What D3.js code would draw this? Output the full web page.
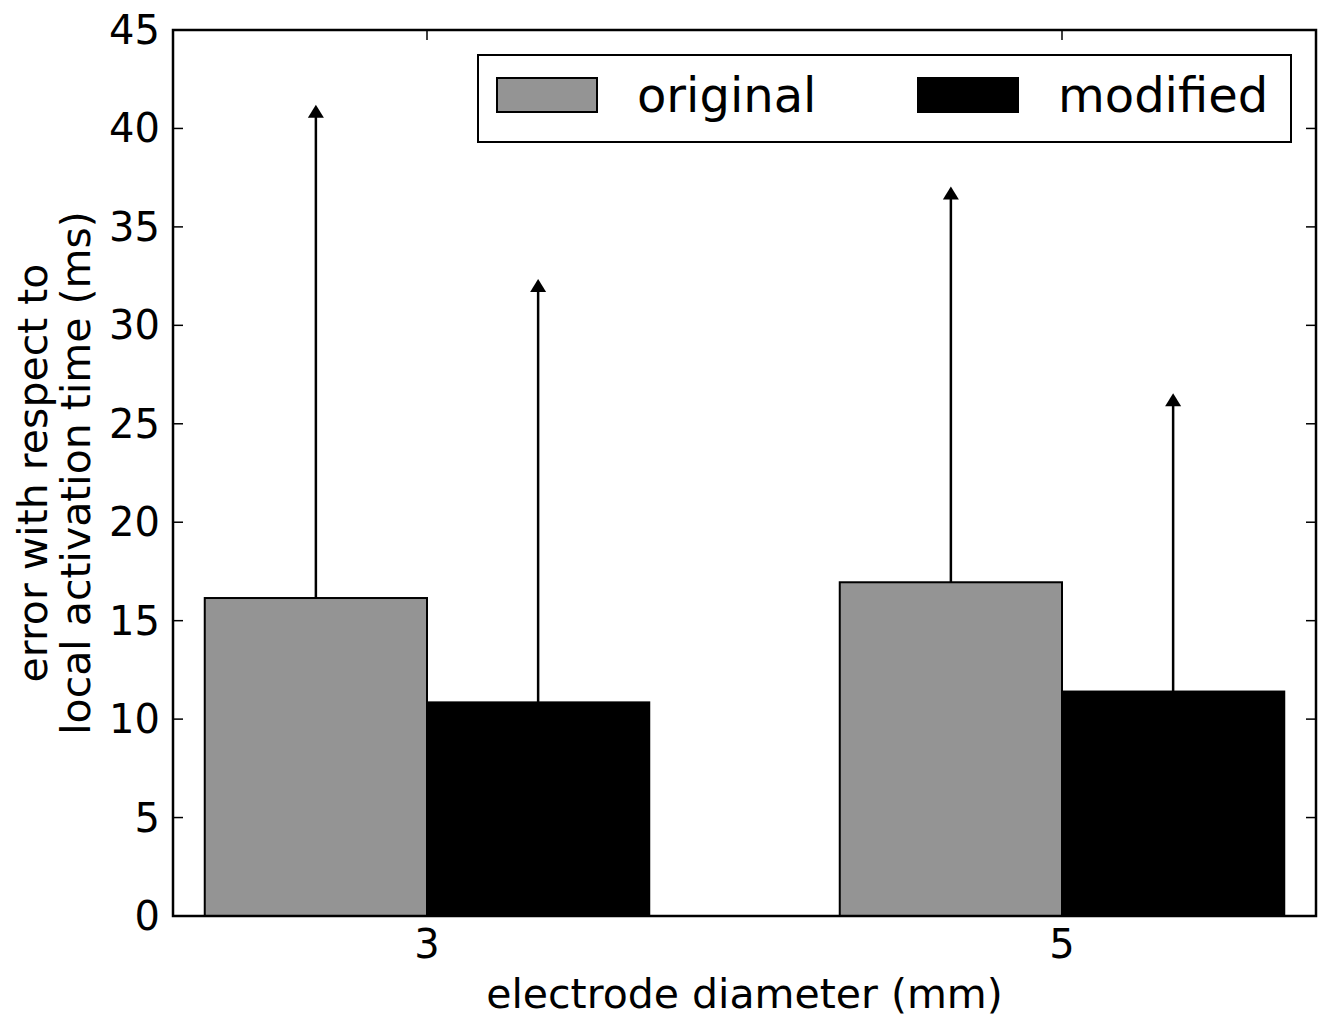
<!DOCTYPE html>
<html>
<head>
<meta charset="utf-8">
<script src="https://cdn.jsdelivr.net/npm/d3@7"></script>
<style>
  body { margin: 0; background: #fff; }
  text { font-family: "DejaVu Sans", sans-serif; fill: #000; }
</style>
</head>
<body>
<div id="chart"></div>
<script>
// data
var categories = ["3", "5"];
var original = [16.15, 16.95];
var modified = [10.85, 11.4];
var originalErr = [24.7, 19.75];   // upper error only
var modifiedErr = [21.15, 14.8];
var yTicks = [0, 5, 10, 15, 20, 25, 30, 35, 40, 45];
var seriesNames = ["original", "modified"];

(function () {
  var W = 1326, H = 1019,
    plotL = 173, plotR = 1316, plotT = 30, plotB = 916,
    barW = 0.35;

  var svg = d3.select('#chart').append('svg')
    .attr('width', W).attr('height', H);

  var x = d3.scaleLinear().domain([-0.4, 1.4]).range([plotL, plotR]);
  var y = d3.scaleLinear().domain([0, 45]).range([plotB, plotT]);

  var series = [
    { name: seriesNames[0], vals: original, err: originalErr, fill: '#949494', off: -barW },
    { name: seriesNames[1], vals: modified, err: modifiedErr, fill: '#000', off: 0 }
  ];

  // bars
  series.forEach(function (s) {
    svg.selectAll('.bar-' + s.name)
      .data(s.vals).enter()
      .append('rect')
      .attr('class', 'bar-' + s.name)
      .attr('x', function (d, i) { return x(i + s.off) })
      .attr('y', function (d) { return y(d) })
      .attr('width', function () { return x(barW) - x(0) })
      .attr('height', function (d) { return y(0) - y(d) })
      .attr('fill', s.fill)
      .attr('stroke', '#000')
      .attr('stroke-width', 2);
  });

  // error bars with arrow caps
  series.forEach(function (s) {
    s.vals.forEach(function (d, i) {
      var cx = x(i + s.off + barW / 2);
      var ty = y(d + s.err[i]);
      svg.append('line')
        .attr('x1', cx).attr('x2', cx)
        .attr('y1', y(d)).attr('y2', ty)
        .attr('stroke', '#000').attr('stroke-width', 2.5);
      svg.append('path')
        .attr('d', 'M' + cx + ',' + (ty - 7) + 'L' + (cx + 8) + ',' + (ty + 6) + 'L' + (cx - 8) + ',' + (ty + 6) + 'Z')
        .attr('fill', '#000');
    });
  });

  // frame
  svg.append('rect')
    .attr('x', plotL).attr('y', plotT)
    .attr('width', plotR - plotL).attr('height', plotB - plotT)
    .attr('fill', 'none').attr('stroke', '#000').attr('stroke-width', 2.5);

  // y ticks, inward on both sides
  yTicks.forEach(function (t) {
    svg.append('line').attr('x1', plotL).attr('x2', plotL + 10)
      .attr('y1', y(t)).attr('y2', y(t)).attr('stroke', '#000').attr('stroke-width', 1.5);
    svg.append('line').attr('x1', plotR).attr('x2', plotR - 10)
      .attr('y1', y(t)).attr('y2', y(t)).attr('stroke', '#000').attr('stroke-width', 1.5);
    svg.append('text')
      .attr('x', 160).attr('y', y(t))
      .attr('text-anchor', 'end')
      .attr('dominant-baseline', 'central')
      .style('font-size', '40px')
      .text(t);
  });

  // x ticks
  categories.forEach(function (c, i) {
    svg.append('line').attr('x1', x(i)).attr('x2', x(i))
      .attr('y1', plotT).attr('y2', plotT + 10).attr('stroke', '#000').attr('stroke-width', 1.5);
    svg.append('line').attr('x1', x(i)).attr('x2', x(i))
      .attr('y1', plotB).attr('y2', plotB - 10).attr('stroke', '#000').attr('stroke-width', 1.5);
    svg.append('text')
      .attr('x', x(i)).attr('y', 958)
      .attr('text-anchor', 'middle')
      .style('font-size', '40px')
      .text(c);
  });

  // axis labels
  svg.append('text')
    .attr('x', (plotL + plotR) / 2).attr('y', 1008)
    .attr('text-anchor', 'middle')
    .style('font-size', '41px')
    .text('electrode diameter (mm)');

  var ylab = svg.append('text')
    .attr('transform', 'translate(0,' + ((plotT + plotB) / 2) + ') rotate(-90)')
    .attr('text-anchor', 'middle')
    .style('font-size', '41px');
  ylab.append('tspan').attr('x', 0).attr('y', 47).text('error with respect to');
  ylab.append('tspan').attr('x', 0).attr('y', 90).text('local activation time (ms)');

  // legend
  var lg = svg.append('g');
  lg.append('rect')
    .attr('x', 478).attr('y', 55).attr('width', 813).attr('height', 87)
    .attr('fill', '#fff').attr('stroke', '#000').attr('stroke-width', 2);
  var legX = [497, 918];
  series.forEach(function (s, i) {
    lg.append('rect')
      .attr('x', legX[i]).attr('y', 78).attr('width', 100).attr('height', 34)
      .attr('fill', s.fill).attr('stroke', '#000').attr('stroke-width', 2);
    lg.append('text')
      .attr('x', legX[i] + 140).attr('y', 95)
      .attr('dominant-baseline', 'central')
      .style('font-size', '48px')
      .text(s.name);
  });
})();
</script>
</body>
</html>
